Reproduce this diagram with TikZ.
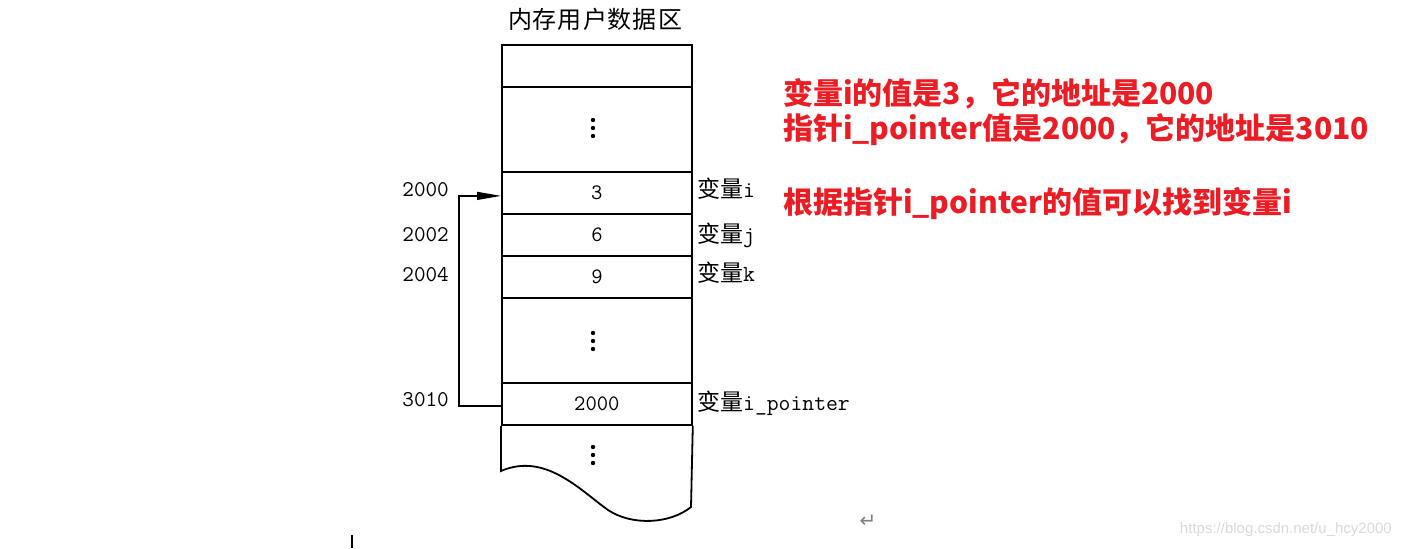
\documentclass[tikz,border=0pt]{standalone}
\usepackage{fontspec}
\usetikzlibrary{arrows.meta}
\newfontfamily\cjk{Noto Sans CJK SC}
\newfontfamily\dejavu{DejaVu Sans}
\newfontfamily\libsans{Liberation Sans}
\definecolor{notered}{RGB}{236,28,36}
\begin{document}
\begin{tikzpicture}[x=1pt,y=-1pt,
  cell/.style={draw, line width=1.8pt, minimum width=190pt, inner sep=0pt, anchor=north west},
  celltext/.style={font=\fontsize{22}{22}\selectfont\ttfamily},
  side/.style={anchor=west, inner sep=0pt, font=\fontsize{23}{23}\selectfont},
  addr/.style={anchor=east, inner sep=0pt, font=\fontsize{22.5}{22.5}\selectfont\ttfamily},
  note/.style={anchor=west, inner sep=0pt, text=notered, font=\fontsize{30}{30}\selectfont\cjk\bfseries},
  vdot/.style={fill=black, draw=none}]
\useasboundingbox (0,0) rectangle (1401,549);
% title
\node[inner sep=0pt, font=\fontsize{24}{24}\selectfont\cjk] (title) at (595,19) {内\hspace{1pt}存\hspace{1pt}用\hspace{1pt}户\hspace{1pt}数\hspace{1pt}据\hspace{1pt}区};
% cells
\node[cell, minimum height=42pt] (c0) at (501,44) {};
\node[cell, minimum height=85pt] (c1) at (501,86) {};
\node[cell, minimum height=42pt, celltext] (ci) at (501,171) {3\hspace{6pt}};
\node[cell, minimum height=42pt, celltext] (cj) at (501,213) {6\hspace{6pt}};
\node[cell, minimum height=42pt, celltext] (ck) at (501,255) {9\hspace{6pt}};
\node[cell, minimum height=85pt] (c2) at (501,297) {};
\node[cell, minimum height=42pt, celltext] (cp) at (501,382) {2000\hspace{6pt}};
% bottom wavy part
\draw[line width=1.8pt] (cp.south west) -- (501,471)
  .. controls (545,452) and (580,490) .. (608,510)
  .. controls (632,526) and (670,524) .. (691,507) -- (cp.south east);
% dots
\foreach \y in {120,128,136,333,341,349,447,455,463}
  \fill[vdot] (593,\y) circle (2.2pt);
% side labels
\node[side] (li) at (697,189) {{\cjk 变量}\ttfamily i};
\node[side] (lj) at (697,235) {{\cjk 变量}\ttfamily j};
\node[side] (lk) at (697,273) {{\cjk 变量}\ttfamily k};
\node[side] (lp) at (697,403) {{\cjk 变量}\ttfamily i\_pointer};
% addresses
\node[addr] (a1) at (449,190) {2000};
\node[addr] (a2) at (449,235) {2002};
\node[addr] (a3) at (449,275) {2004};
\node[addr] (a4) at (449,400) {3010};
% pointer arrow
\draw[line width=1.3pt, -{Stealth[length=24pt,width=8pt,inset=0pt]}]
  ([yshift=-2pt]cp.west) -- ++(-42,0) |- ([yshift=-3pt]ci.west);
% red notes
\node[note] (n1) at (783,94) {变量i的值是3，它的地址是2000};
\node[note] (n2) at (783,130) {指针i\_pointer值是2000，它的地址是3010};
\node[note] (n3) at (783,204) {根据指针i\_pointer的值可以找到变量i};
% small marks
\node[inner sep=0pt, text=gray, font=\fontsize{20}{20}\selectfont\dejavu] (ret) at (868,521) {↵};
\draw[line width=1.5pt] (352,535) -- (352,548);
\node[anchor=east, inner sep=0pt, text=black!15, font=\fontsize{15}{15}\selectfont\libsans] (wm) at (1392,530) {https://blog.csdn.net/u\_hcy2000};
\end{tikzpicture}
\end{document}
